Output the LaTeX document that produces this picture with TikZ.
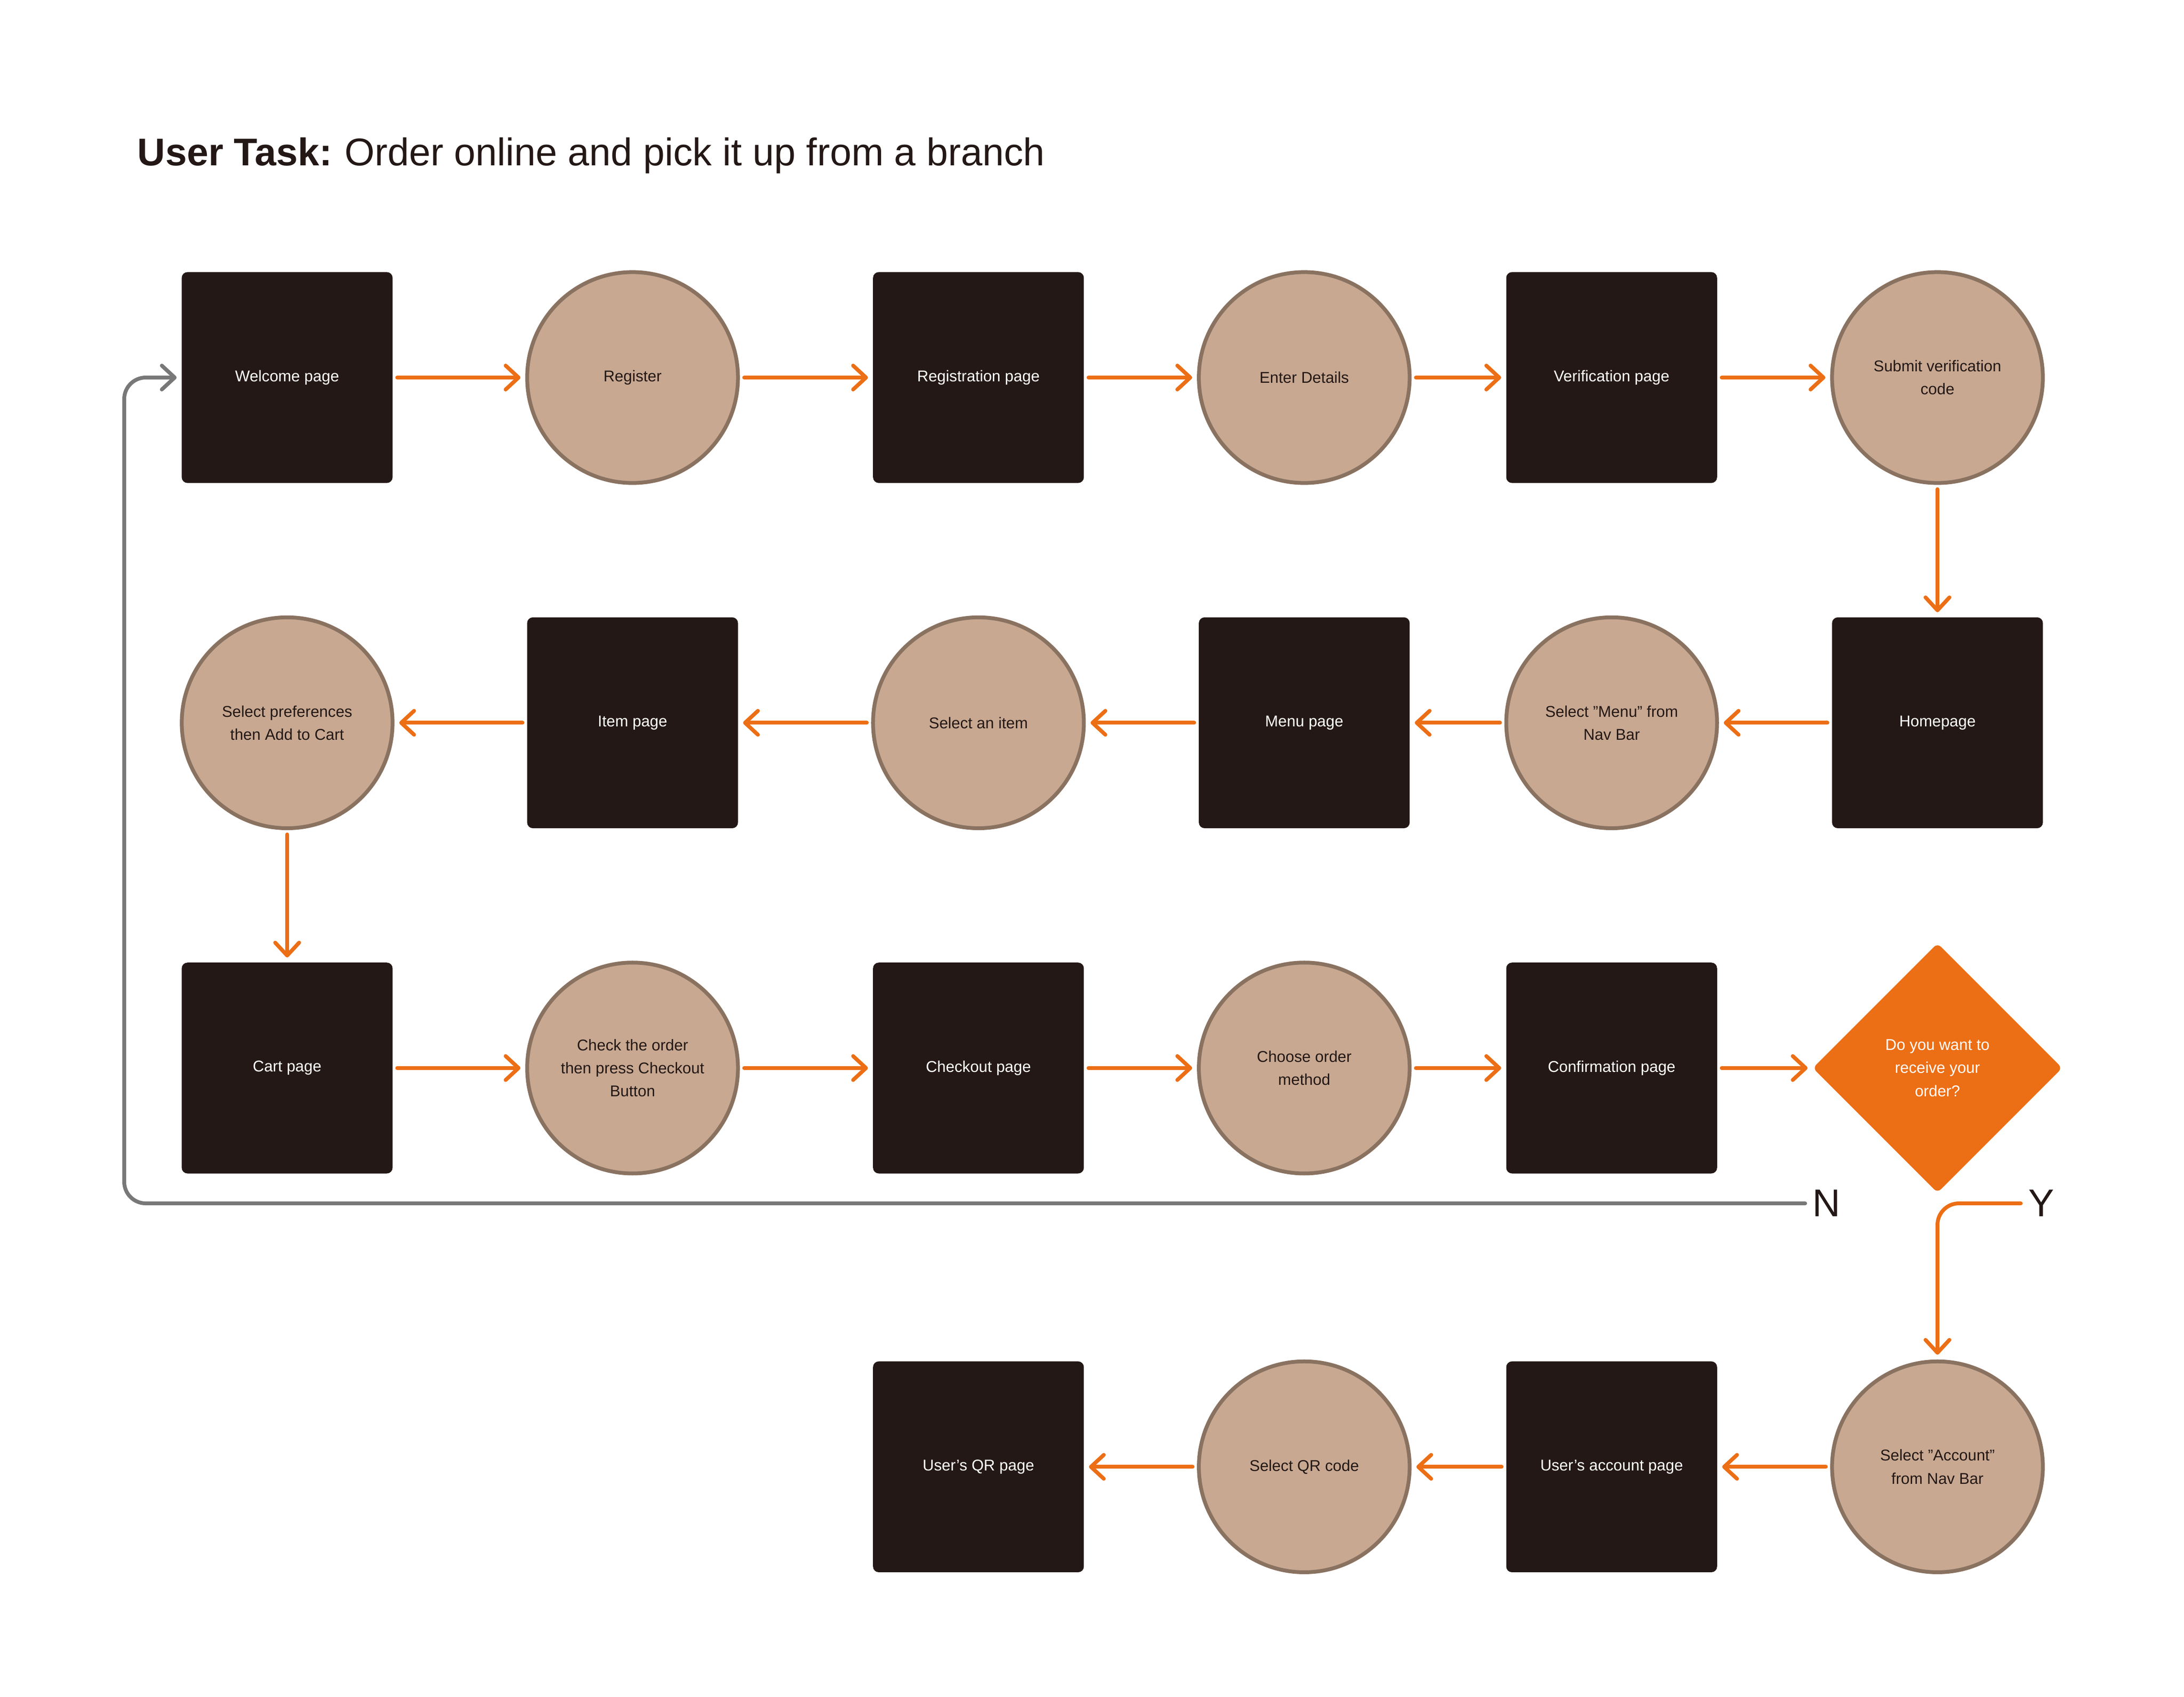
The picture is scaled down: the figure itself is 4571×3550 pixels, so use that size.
\documentclass[tikz,border=0pt]{standalone}
\usepackage{fontspec}
\setmainfont{Liberation Sans}
\usetikzlibrary{positioning,shapes.geometric,arrows.meta}
\definecolor{pagebrown}{HTML}{231815}
\definecolor{actiontan}{HTML}{C8A891}
\definecolor{actionrim}{HTML}{8A7261}
\definecolor{floworange}{HTML}{EC6E15}
\definecolor{backgray}{HTML}{787878}

\begin{document}
\begin{tikzpicture}[x=0.01cm, y=-0.01cm, on grid, node distance = 7.22cm and 7.22cm,
page/.style ={rectangle, rounded corners=0.12cm, fill=pagebrown, text=white, minimum size=4.41cm, align=center, font=\fontsize{9.3}{13.7}\selectfont},
action/.style ={circle, fill=actiontan, draw=actionrim, line width=0.08cm, text=pagebrown, minimum size=4.41cm, align=center, font=\fontsize{9.3}{13.7}\selectfont},
question/.style ={diamond, aspect=1, rounded corners=0.1cm, fill=floworange, text=white, minimum size=5.22cm, inner sep=0pt, align=center, font=\fontsize{9.3}{13.7}\selectfont},
answer/.style ={inner sep=0pt, text=pagebrown, font=\fontsize{23}{28}\selectfont},
flow/.style ={-{Straight Barb[length=0.27cm, width=0.5cm, round]}, draw=floworange, line width=0.08cm, line cap=round, shorten >=0.1cm, shorten <=0.09cm},
backflow/.style ={flow, draw=backgray}]
\useasboundingbox (0,0) rectangle (4571,3550);

\node[anchor=base west, inner sep=0pt, text=pagebrown, font=\fontsize{23}{28}\selectfont] (heading) at (287,346) {\textbf{User Task:}\hspace{-0.04cm} Order online and pick it up from a branch};

% first row
\node[page] (welcome) at (601,790) {Welcome page};
\node[action] (register) [right = 7.225cm of welcome] {Register};
\node[page] (regpage) [right = 7.235cm of register] {Registration page};
\node[action] (details) [right = 6.815cm of regpage] {Enter Details};
\node[page] (verpage) [right = 6.43cm of details] {Verification page};
\node[action] (sendcode) [right = 6.815cm of verpage] {Submit verification\\code};

% second row
\node[page] (homepage) [below = of sendcode] {Homepage};
\node[action] (menusel) [below = of verpage] {Select "Menu" from\\Nav Bar};
\node[page] (menupage) [below = of details] {Menu page};
\node[action] (itemsel) [below = of regpage] {Select an item};
\node[page] (itempage) [below = of register] {Item page};
\node[action] (prefs) [below = of welcome] {Select preferences\\then Add to Cart};

% third row
\node[page] (cart) [below = of prefs] {Cart page};
\node[action] (checkorder) [below = of itempage] {Check the order\\then press Checkout\\Button};
\node[page] (checkout) [below = of itemsel] {Checkout page};
\node[action] (method) [below = of menupage] {Choose order\\method};
\node[page] (confirm) [below = of menusel] {Confirmation page};
\node[question] (receive) [below = of homepage] {Do you want to\\receive your\\order?};

\node[answer] (no) at (3823,2518) {N};
\node[answer] (yes) at (4272,2518) {Y};

% fourth row
\node[action] (account) [below = 8.34cm of receive] {Select "Account"\\from Nav Bar};
\node[page] (accpage) [below = 8.34cm of confirm] {User's account page};
\node[action] (qrsel) [below = 8.34cm of method] {Select QR code};
\node[page] (qrpage) [below = 8.34cm of checkout] {User's QR page};

\coordinate (backturn) at (260,790);

\draw[flow] (welcome) -- (register);
\draw[flow] (register) -- (regpage);
\draw[flow] (regpage) -- (details);
\draw[flow] (details) -- (verpage);
\draw[flow] (verpage) -- (sendcode);
\draw[flow] (sendcode) -- (homepage);

\draw[flow] (homepage) -- (menusel);
\draw[flow] (menusel) -- (menupage);
\draw[flow] (menupage) -- (itemsel);
\draw[flow] (itemsel) -- (itempage);
\draw[flow] (itempage) -- (prefs);
\draw[flow] (prefs) -- (cart);

\draw[flow] (cart) -- (checkorder);
\draw[flow] (checkorder) -- (checkout);
\draw[flow] (checkout) -- (method);
\draw[flow] (method) -- (confirm);
\draw[flow] (confirm) -- (receive);

\draw[backflow, rounded corners=0.45cm, shorten <=0.15cm] (no.west) -| (backturn) -- (welcome);
\draw[flow, rounded corners=0.45cm, shorten <=0.15cm] (yes.west) -| (account);

\draw[flow] (account) -- (accpage);
\draw[flow] (accpage) -- (qrsel);
\draw[flow] (qrsel) -- (qrpage);
\end{tikzpicture}
\end{document}
